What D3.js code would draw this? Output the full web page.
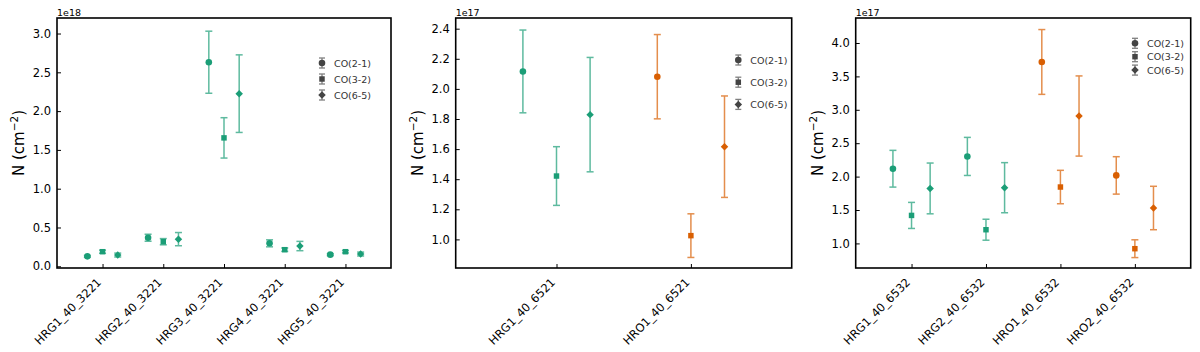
<!DOCTYPE html>
<html>
<head>
<meta charset="utf-8">
<script src="https://cdn.jsdelivr.net/npm/d3@7"></script>
<style>
  body { margin: 0; background: #fff; }
  svg { display: block; font-family: "DejaVu Sans", sans-serif; }
</style>
</head>
<body>
<div id="container"></div>
<script>
// ---- data (values in units of the offset exponent) ----
const seriesNames = ["CO(2-1)", "CO(3-2)", "CO(6-5)"];

const p1Categories = ["HRG1_40_3221", "HRG2_40_3221", "HRG3_40_3221", "HRG4_40_3221", "HRG5_40_3221"];
const p1CO21 = [0.128, 0.368, 2.63, 0.296, 0.150];
const p1CO21Err = [0.012, 0.045, 0.40, 0.045, 0.012];
const p1CO32 = [0.188, 0.317, 1.655, 0.214, 0.188];
const p1CO32Err = [0.020, 0.040, 0.26, 0.022, 0.016];
const p1CO65 = [0.145, 0.350, 2.225, 0.261, 0.158];
const p1CO65Err = [0.025, 0.085, 0.50, 0.060, 0.025];
const p1Ticks = [0, 0.5, 1.0, 1.5, 2.0, 2.5, 3.0];

const p2Categories = ["HRG1_40_6521", "HRO1_40_6521"];
const p2CO21 = [2.116, 2.081];
const p2CO21Err = [0.275, 0.280];
const p2CO32 = [1.421, 1.025];
const p2CO32Err = [0.195, 0.145];
const p2CO65 = [1.829, 1.616];
const p2CO65Err = [0.380, 0.337];
const p2Ticks = [1.0, 1.2, 1.4, 1.6, 1.8, 2.0, 2.2, 2.4];

const p3Categories = ["HRG1_40_6532", "HRG2_40_6532", "HRO1_40_6532", "HRO2_40_6532"];
const p3CO21 = [2.118, 2.302, 3.716, 2.018];
const p3CO21Err = [0.275, 0.285, 0.485, 0.280];
const p3CO32 = [1.419, 1.205, 1.844, 0.921];
const p3CO32Err = [0.195, 0.157, 0.250, 0.133];
const p3CO65 = [1.823, 1.834, 2.907, 1.530];
const p3CO65Err = [0.380, 0.375, 0.600, 0.325];
const p3Ticks = [1.0, 1.5, 2.0, 2.5, 3.0, 3.5, 4.0];

// ---- layout ----
const width = 1200, height = 352;
const plotTop = 18, plotBottom = 268;
const green = "#1b9e77", orange = "#d95f02";

const panels = [
  { left: 57, right: 391, cats: p1Categories, vals: [p1CO21, p1CO32, p1CO65],
    errs: [p1CO21Err, p1CO32Err, p1CO65Err], ticks: p1Ticks, yDomain: [-0.022, 3.2],
    exp: "1e18", legend: { x: 69, y: 63, step: 16 } },
  { left: 455.7, right: 791.7, cats: p2Categories, vals: [p2CO21, p2CO32, p2CO65],
    errs: [p2CO21Err, p2CO32Err, p2CO65Err], ticks: p2Ticks, yDomain: [0.81, 2.471],
    exp: "1e17", legend: { x: 53.4, y: 60, step: 22.2 } },
  { left: 855.7, right: 1190.7, cats: p3Categories, vals: [p3CO21, p3CO32, p3CO65],
    errs: [p3CO21Err, p3CO32Err, p3CO65Err], ticks: p3Ticks, yDomain: [0.632, 4.374],
    exp: "1e17", legend: { x: 55.7, y: 43.3, step: 13.4 } }
];

const offsets = [-0.25, 0, 0.25];
const symbols = [
  d3.symbol().type(d3.symbolCircle).size(34),
  d3.symbol().type(d3.symbolSquare).size(30),
  d3.symbol().type(d3.symbolSquare).size(28)
];
const rotations = [0, 0, 45];

var svg = d3.select("div#container")
  .append("svg")
  .attr("width", width)
  .attr("height", height);

panels.forEach(function(p) {
  var n = p.cats.length;
  var x = d3.scaleLinear().domain([-0.75, n - 0.25]).range([p.left, p.right]);
  var y = d3.scaleLinear().domain(p.yDomain).range([plotBottom, plotTop]);
  var g = svg.append("g");

  // y axis (ticks inward)
  var yAxis = g.append("g")
    .attr("transform", "translate(" + p.left + ",0)")
    .call(d3.axisLeft(y).tickValues(p.ticks).tickFormat(d3.format(".1f"))
      .tickSize(-4).tickPadding(6));
  yAxis.select(".domain").remove();
  yAxis.selectAll(".tick line").attr("stroke", "#000").attr("stroke-width", 1);
  yAxis.selectAll(".tick text").attr("font-size", 11.5).attr("fill", "#000")
    .attr("font-family", "DejaVu Sans");

  // x axis
  var xAxis = g.append("g")
    .attr("transform", "translate(0," + plotBottom + ")")
    .call(d3.axisBottom(x).tickValues(d3.range(n)).tickFormat(function(i) { return p.cats[i]; })
      .tickSize(-4));
  xAxis.select(".domain").remove();
  xAxis.selectAll(".tick line").attr("stroke", "#000").attr("stroke-width", 1);
  xAxis.selectAll(".tick text")
    .attr("font-size", 11.5).attr("fill", "#000").attr("font-family", "DejaVu Sans")
    .attr("text-anchor", "end")
    .attr("y", 0).attr("dy", 0)
    .attr("transform", "translate(-1,15) rotate(-45)");

  // frame
  g.append("rect")
    .attr("x", p.left).attr("y", plotTop)
    .attr("width", p.right - p.left).attr("height", plotBottom - plotTop)
    .attr("fill", "none").attr("stroke", "#000").attr("stroke-width", 1.6);

  // offset text
  g.append("text").attr("x", p.left).attr("y", 15.5)
    .attr("font-size", 9.5).text(p.exp);

  // y label
  var yl = g.append("text")
    .attr("transform", "translate(" + (p.left - 33) + "," + ((plotTop + plotBottom) / 2) + ") rotate(-90)")
    .attr("text-anchor", "middle").attr("font-size", 15);
  yl.append("tspan").text("N (cm");
  yl.append("tspan").attr("font-size", 10.5).attr("dy", -6).text("\u22122");
  yl.append("tspan").attr("dy", 6).text(")");

  // error bars + markers
  p.vals.forEach(function(vals, s) {
    vals.forEach(function(v, i) {
      var color = p.cats[i].indexOf("HRO") === 0 ? orange : green;
      var cx = x(i + offsets[s]);
      var lo = y(v - p.errs[s][i]), hi = y(v + p.errs[s][i]);
      var eb = g.append("g").attr("stroke", color).attr("stroke-width", 1.5).attr("opacity", 0.7);
      eb.append("line").attr("x1", cx).attr("x2", cx).attr("y1", lo).attr("y2", hi);
      eb.append("line").attr("x1", cx - 3.5).attr("x2", cx + 3.5).attr("y1", lo).attr("y2", lo);
      eb.append("line").attr("x1", cx - 3.5).attr("x2", cx + 3.5).attr("y1", hi).attr("y2", hi);
      g.append("path").attr("d", symbols[s]())
        .attr("transform", "translate(" + cx + "," + y(v) + ") rotate(" + rotations[s] + ")")
        .attr("fill", color);
    });
  });

  // legend
  var lx = p.right - p.legend.x;
  seriesNames.forEach(function(name, s) {
    var ly = p.legend.y + s * p.legend.step;
    var lg = g.append("g").attr("stroke", "#555").attr("stroke-width", 1.3).attr("opacity", 0.75);
    lg.append("line").attr("x1", lx).attr("x2", lx).attr("y1", ly - 5).attr("y2", ly + 5);
    lg.append("line").attr("x1", lx - 3).attr("x2", lx + 3).attr("y1", ly - 5).attr("y2", ly - 5);
    lg.append("line").attr("x1", lx - 3).attr("x2", lx + 3).attr("y1", ly + 5).attr("y2", ly + 5);
    g.append("path").attr("d", symbols[s]())
      .attr("transform", "translate(" + lx + "," + ly + ") rotate(" + rotations[s] + ")")
      .attr("fill", "#444");
    g.append("text").attr("x", lx + 12).attr("y", ly + 3.5)
      .attr("font-size", 9.5).attr("fill", "#333").text(name);
  });
});
</script>
</body>
</html>
